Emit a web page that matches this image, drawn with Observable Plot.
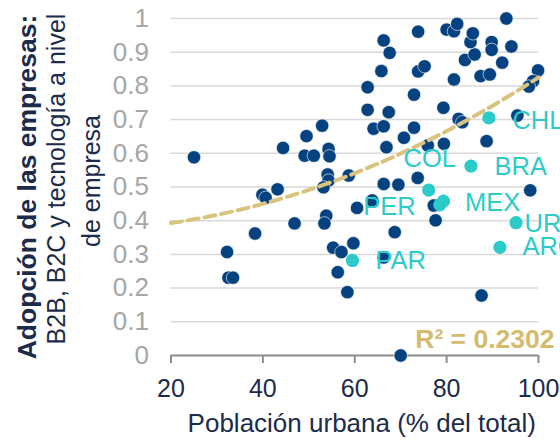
<!DOCTYPE html>
<html>
<head>
<meta charset="utf-8">
<script src="https://cdn.jsdelivr.net/npm/d3@7"></script>
<script src="https://cdn.jsdelivr.net/npm/@observablehq/plot@0.6"></script>
<style>
  html, body { margin: 0; padding: 0; background: #fff; overflow: hidden; }
  #chart svg { display: block; }
  g[aria-label="x-axis tick label"], g[aria-label="x-axis tick label"] text { fill: #1c2b4a; }
</style>
</head>
<body>
<div id="chart"></div>
<script>
// ---- data ----
const otherX = [25.0, 32.2, 32.5, 33.5, 38.3, 39.9, 40.6, 43.2, 44.4, 46.9, 49.5, 49.1, 51.1, 52.9, 54.3, 54.5, 54.1, 54.3, 53.2, 58.7,
  60.5, 53.8, 53.4, 55.3, 57.1, 59.7, 58.4, 66.3, 62.8, 62.8, 65.8, 66.3, 67.6, 67.4, 72.9, 73.8, 73.8, 75.2, 79.3, 80.0,
  81.6, 82.3, 81.6, 84.0, 86.1, 85.2, 85.7, 87.4, 89.4, 89.8, 89.8, 92.1, 93.0, 94.1, 99.9, 98.8, 97.9, 82.6, 83.4, 64.1,
  66.3, 72.9, 70.7, 66.9, 75.9, 79.4, 88.7, 95.4, 73.7, 66.3, 69.5, 77.2, 77.6, 68.7, 63.8, 98.2, 87.6, 70.0, 56.3];
const otherY = [0.588, 0.307, 0.231, 0.231, 0.362, 0.477, 0.468, 0.493, 0.616, 0.392, 0.651, 0.593, 0.593, 0.682, 0.613, 0.591, 0.537, 0.519, 0.499, 0.534,
  0.438, 0.415, 0.392, 0.320, 0.307, 0.333, 0.188, 0.291, 0.796, 0.729, 0.844, 0.935, 0.898, 0.722, 0.774, 0.961, 0.843, 0.858, 0.735, 0.967,
  0.962, 0.984, 0.819, 0.877, 0.893, 0.930, 0.956, 0.829, 0.834, 0.930, 0.907, 0.869, 1.000, 0.917, 0.846, 0.814, 0.798, 0.702, 0.692, 0.673,
  0.680, 0.676, 0.646, 0.618, 0.623, 0.628, 0.636, 0.712, 0.527, 0.509, 0.507, 0.445, 0.401, 0.366, 0.460, 0.490, 0.178, 0.000, 0.247];

const countries = ["PAR", "COL", "PER", "MEX", "BRA", "CHL", "URY", "ARG"];
const countryX = [59.5, 76.1, 78.5, 79.3, 85.3, 89.2, 95.1, 91.6];
const countryY = [0.282, 0.491, 0.447, 0.458, 0.562, 0.705, 0.394, 0.321];

const xTicks = [20, 40, 60, 80, 100];
const yTicks = [0, 0.1, 0.2, 0.3, 0.4, 0.5, 0.6, 0.7, 0.8, 0.9, 1];
const yTickLabels = ["0", "0.1", "0.2", "0.3", "0.4", "0.5", "0.6", "0.7", "0.8", "0.9", "1"];

// polynomial (order 2) trend line coefficients: a + b*x + c*x^2
const trendCoef = [0.370, 0.0003, 0.0000425];
const rSquaredText = "R² = 0.2302";

const xTitle = "Población urbana (% del total)";
const yTitleLine1 = "Adopción de las empresas:";
const yTitleLine2 = "B2B, B2C y tecnología a nivel";
const yTitleLine3 = "de empresa";

// ---- build tables ----
const others = otherX.map((x, i) => ({x, y: otherY[i]}));
const highlighted = countries.map((name, i) => ({name, x: countryX[i], y: countryY[i]}));
const trend = d3.range(20, 100.001, 1).map(x => ({x, y: trendCoef[0] + trendCoef[1] * x + trendCoef[2] * x * x}));
const yLabelOf = new Map(yTicks.map((t, i) => [t, yTickLabels[i]]));

// label placement (style, not data)
const labelPlace = {
  PAR: {anchor: "start", dx: 23, dy: 0.5},
  COL: {anchor: "middle", dx: 1, dy: -31.5},
  PER: {anchor: "end", dx: -24, dy: 2},
  MEX: {anchor: "start", dx: 21.5, dy: 2},
  BRA: {anchor: "start", dx: 23.5, dy: 0.5},
  CHL: {anchor: "start", dx: 23.5, dy: 2.5},
  URY: {anchor: "start", dx: 8.5, dy: 1},
  ARG: {anchor: "start", dx: 22.5, dy: -0.5}
};

const NAVY = "#1c2b4a";
const DOT = "#05427f";
const TURQ = "#2ccbc9";
const TAN = "#dac37f";
const FONT = "'Liberation Sans', Arial, Helvetica, sans-serif";

const labelMarks = highlighted.map(d => Plot.text([d], {
  x: "x", y: "y", text: "name",
  textAnchor: labelPlace[d.name].anchor,
  dx: labelPlace[d.name].dx, dy: labelPlace[d.name].dy,
  fill: TURQ, fontSize: 25.5, lineAnchor: "middle"
}));

const chart = Plot.plot({
  width: 560,
  height: 443,
  marginLeft: 170.5,
  marginRight: 22,
  marginTop: 18,
  marginBottom: 88,
  style: {fontFamily: FONT, fontSize: "24px", background: "#fff", overflow: "hidden"},
  x: {domain: [20, 100]},
  y: {domain: [0, 1]},
  marks: [
    Plot.gridY(yTicks.filter(t => t > 0), {stroke: "#d9d9d9", strokeOpacity: 1, strokeWidth: 1.5}),
    Plot.axisY({ticks: yTicks, tickFormat: t => yLabelOf.get(t), tickSize: 0, tickPadding: 22, fontSize: 26, color: "#a6a6a6", label: null}),
    Plot.axisX({ticks: xTicks, tickSize: 8, tickPadding: 16, fontSize: 25, color: "#8c8c8c", strokeWidth: 2, label: null}),
    Plot.ruleY([0], {stroke: "#8c8c8c", strokeWidth: 2}),
    Plot.dot(others, {x: "x", y: "y", r: 6.7, fill: DOT, stroke: "#ffffff", strokeWidth: 0.6}),
    Plot.line(trend, {x: "x", y: "y", stroke: TAN, strokeWidth: 4, strokeDasharray: "11,6"}),
    Plot.dot(highlighted, {x: "x", y: "y", r: 6.6, fill: TURQ}),
    ...labelMarks,
    Plot.text([rSquaredText], {frameAnchor: "bottom-right", textAnchor: "end", lineAnchor: "middle", dx: 16, dy: -16,
      fill: "#d4bb6e", fontSize: 26.5, fontWeight: "bold"}),
    Plot.text([xTitle], {frameAnchor: "bottom", lineAnchor: "middle", dx: 7, dy: 68, fill: NAVY, fontSize: 26}),
    Plot.text([yTitleLine1], {frameAnchor: "left", rotate: -90, textAnchor: "middle", lineAnchor: "middle",
      dx: -143, dy: 0, fill: NAVY, fontSize: 26.5, fontWeight: "bold"}),
    Plot.text([yTitleLine2], {frameAnchor: "left", rotate: -90, textAnchor: "middle", lineAnchor: "middle",
      dx: -114, dy: -8, fill: NAVY, fontSize: 25}),
    Plot.text([yTitleLine3], {frameAnchor: "left", rotate: -90, textAnchor: "middle", lineAnchor: "middle",
      dx: -79, dy: -6, fill: NAVY, fontSize: 25})
  ]
});

document.getElementById("chart").appendChild(chart);
</script>
</body>
</html>
